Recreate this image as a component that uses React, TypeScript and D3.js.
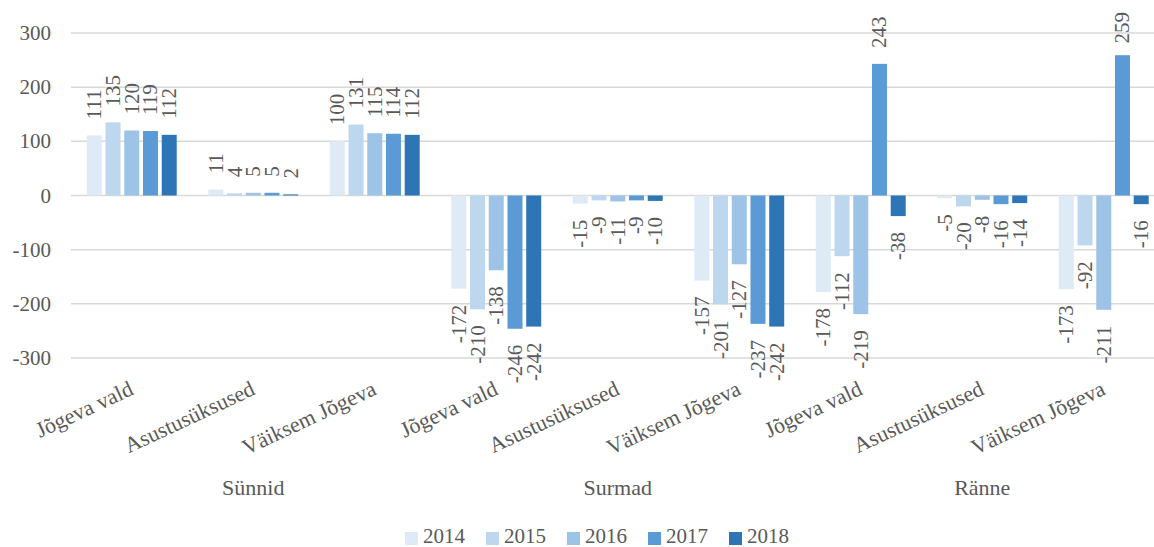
import React from "react";
import * as d3 from "d3";

const groups = ["Sünnid", "Surmad", "Ränne"];
const subCategories = ["Jõgeva vald", "Asustusüksused", "Väiksem Jõgeva"];
const years = ["2014", "2015", "2016", "2017", "2018"];

// values per category (group × sub-category), in year order
const sunnidJogevaVald = [111, 135, 120, 119, 112];
const sunnidAsustus = [11, 4, 5, 5, 2];
const sunnidVaiksem = [100, 131, 115, 114, 112];
const surmadJogevaVald = [-172, -210, -138, -246, -242];
const surmadAsustus = [-15, -9, -11, -9, -10];
const surmadVaiksem = [-157, -201, -127, -237, -242];
const ranneJogevaVald = [-178, -112, -219, 243, -38];
const ranneAsustus = [-5, -20, -8, -16, -14];
const ranneVaiksem = [-173, -92, -211, 259, -16];

const yTicks = [300, 200, 100, 0, -100, -200, -300];
const colors = ["#DEEBF7", "#BDD7EE", "#9DC3E6", "#5B9BD5", "#2E75B6"];

const seriesByCategory = [
  sunnidJogevaVald, sunnidAsustus, sunnidVaiksem,
  surmadJogevaVald, surmadAsustus, surmadVaiksem,
  ranneJogevaVald, ranneAsustus, ranneVaiksem,
];

const categories = groups.flatMap((g) => subCategories.map((s) => `${g}|${s}`));

const W = 1154;
const H = 547;
const FONT = "'Liberation Serif', 'Times New Roman', serif";
const TXT = "#595959";
const GRID = "#D9D9D9";

export default function App() {
  const plotLeft = 71;
  const step = 121.5;
  const x0 = d3
    .scaleBand<string>()
    .domain(categories)
    .range([plotLeft, plotLeft + step * categories.length])
    .paddingInner(0.26)
    .paddingOuter(0.13);
  const x1 = d3
    .scaleBand<string>()
    .domain(years)
    .range([0, x0.bandwidth()])
    .paddingInner(0.2)
    .paddingOuter(0);
  const y = d3.scaleLinear().domain([-300, 300]).range([358, 33]);

  const fs = 21;
  const gap = 16;

  return (
    <svg
      width={W}
      height={H}
      style={{ position: "absolute", left: 0, top: 0, background: "#fff" }}
      fontFamily={FONT}
    >
      {yTicks.map((t) => (
        <g key={t}>
          <line x1={plotLeft} x2={W} y1={y(t)} y2={y(t)} stroke={GRID} strokeWidth={1.5} />
          <text x={51} y={y(t)} textAnchor="end" dominantBaseline="central" fontSize={fs} fill={TXT}>
            {t}
          </text>
        </g>
      ))}

      {categories.map((c, ci) => (
        <g key={c} transform={`translate(${x0(c)},0)`}>
          {years.map((yr, yi) => {
            const v = seriesByCategory[ci][yi];
            const bx = x1(yr)!;
            const bw = x1.bandwidth();
            const top = v >= 0 ? y(v) : y(0);
            const h = Math.abs(y(v) - y(0));
            const cx = bx + bw / 2;
            let ly = v >= 0 ? y(v) - gap : y(v) + gap;
            const labelLen = String(v).length * fs * 0.5;
            if (v >= 0 && ly - labelLen < 12) ly = 12 + labelLen;
            return (
              <g key={yr}>
                <rect x={bx} y={top} width={bw} height={h} fill={colors[yi]} />
                <text
                  transform={`translate(${cx},${ly}) rotate(-90)`}
                  textAnchor={v >= 0 ? "start" : "end"}
                  dominantBaseline="central"
                  fontSize={fs}
                  fill={TXT}
                >
                  {v}
                </text>
              </g>
            );
          })}
        </g>
      ))}

      {categories.map((c) => {
        const cx = x0(c)! + x0.bandwidth() / 2;
        return (
          <text
            key={c}
            transform={`translate(${cx - 4},${379}) rotate(-25)`}
            textAnchor="end"
            dy="0.75em"
            fontSize={22}
            fill={TXT}
          >
            {c.split("|")[1]}
          </text>
        );
      })}

      {groups.map((g, gi) => {
        const first = x0(categories[gi * 3])!;
        const last = x0(categories[gi * 3 + 2])! + x0.bandwidth();
        return (
          <text key={g} x={(first + last) / 2} y={495} textAnchor="middle" fontSize={22} fill={TXT}>
            {g}
          </text>
        );
      })}

      {years.map((yr, i) => {
        const lx = 405 + i * 81;
        return (
          <g key={yr}>
            <rect x={lx} y={532} width={13} height={13} fill={colors[i]} />
            <text x={lx + 18} y={543} fontSize={fs} fill={TXT}>
              {yr}
            </text>
          </g>
        );
      })}
    </svg>
  );
}
